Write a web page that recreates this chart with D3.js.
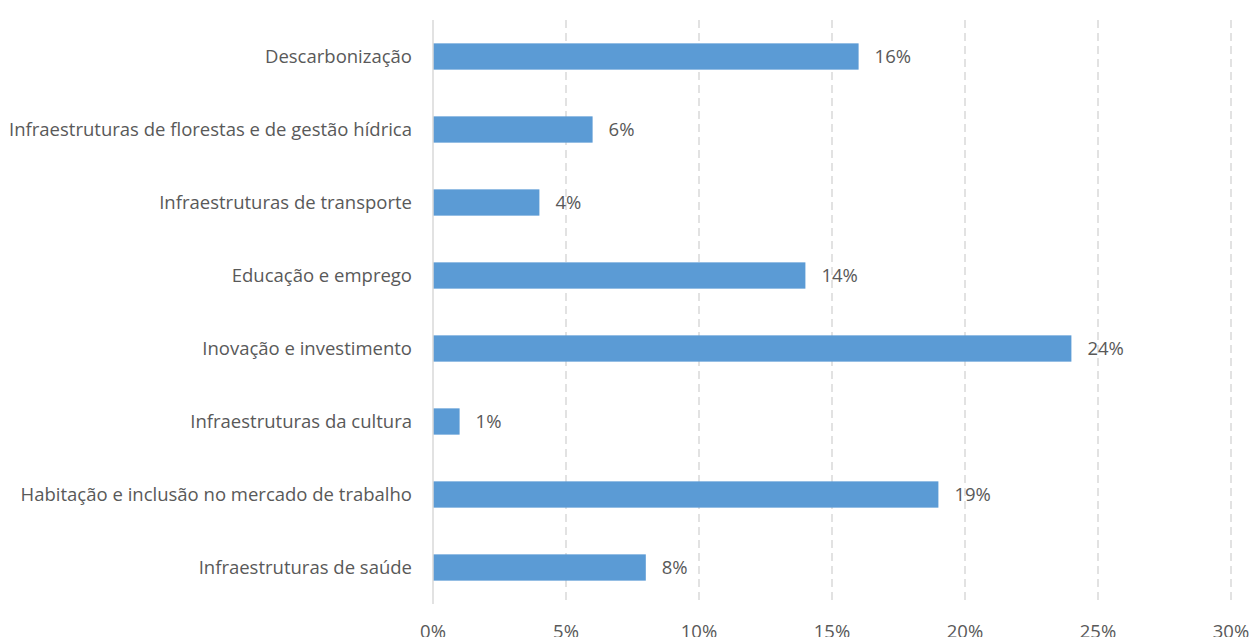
<!DOCTYPE html>
<html>
<head>
<meta charset="utf-8">
<script src="https://cdn.jsdelivr.net/npm/d3@7"></script>
<style>
  body { margin: 0; background: #fff; }
  text { font-family: "Open Sans", sans-serif; fill: #595959; }
</style>
</head>
<body>
<div id="chart"></div>
<script>
// data
var categories = [
  "Descarbonização",
  "Infraestruturas de florestas e de gestão hídrica",
  "Infraestruturas de transporte",
  "Educação e emprego",
  "Inovação e investimento",
  "Infraestruturas da cultura",
  "Habitação e inclusão no mercado de trabalho",
  "Infraestruturas de saúde"
];
var values = [16, 6, 4, 14, 24, 1, 19, 8];
var ticks = [0, 5, 10, 15, 20, 25, 30];

var width = 1251, height = 637;
var margin = {top: 20, right: 20, bottom: 33, left: 433};
var fontsize = "18.5px";

var barcolor = "#5b9bd5";
var gridcolor = "#d9d9d9";

var svg = d3.select("#chart").append("svg")
  .attr("width", width)
  .attr("height", height);

var x = d3.scaleLinear()
  .domain([0, 30])
  .range([margin.left, margin.left + 798]);

var y = d3.scaleBand()
  .domain(categories)
  .range([margin.top, height - margin.bottom])
  .paddingInner(0.64)
  .paddingOuter(0.32);

// dashed grid lines
svg.append("g")
  .selectAll("line")
  .data(ticks.slice(1))
  .enter().append("line")
  .attr("x1", function(d) { return x(d); })
  .attr("x2", function(d) { return x(d); })
  .attr("y1", margin.top)
  .attr("y2", height - margin.bottom)
  .attr("stroke", gridcolor)
  .attr("stroke-width", 1.5)
  .attr("stroke-dasharray", "8,5");

// bars
svg.append("g")
  .selectAll("rect")
  .data(values)
  .enter().append("rect")
  .attr("x", x(0))
  .attr("y", function(d, i) { return y(categories[i]); })
  .attr("width", function(d) { return x(d) - x(0); })
  .attr("height", y.bandwidth())
  .attr("fill", barcolor);

// y axis line
svg.append("line")
  .attr("x1", x(0)).attr("x2", x(0))
  .attr("y1", margin.top).attr("y2", height - margin.bottom)
  .attr("stroke", gridcolor)
  .attr("stroke-width", 1.5);

// category labels
svg.append("g")
  .selectAll("text")
  .data(categories)
  .enter().append("text")
  .attr("x", x(0) - 21)
  .attr("y", function(d) { return y(d) + y.bandwidth() / 2; })
  .attr("dy", "0.35em")
  .attr("text-anchor", "end")
  .style("font-size", fontsize)
  .text(function(d) { return d; });

// value labels
svg.append("g")
  .selectAll("text")
  .data(values)
  .enter().append("text")
  .attr("x", function(d) { return x(d) + 16; })
  .attr("y", function(d, i) { return y(categories[i]) + y.bandwidth() / 2; })
  .attr("dy", "0.35em")
  .style("font-size", fontsize)
  .text(function(d) { return d + "%"; });

// x tick labels (cut at the bottom edge, as in the original)
svg.append("g")
  .selectAll("text")
  .data(ticks)
  .enter().append("text")
  .attr("x", function(d) { return x(d); })
  .attr("y", 638)
  .attr("text-anchor", "middle")
  .style("font-size", fontsize)
  .text(function(d) { return d + "%"; });
</script>
</body>
</html>
